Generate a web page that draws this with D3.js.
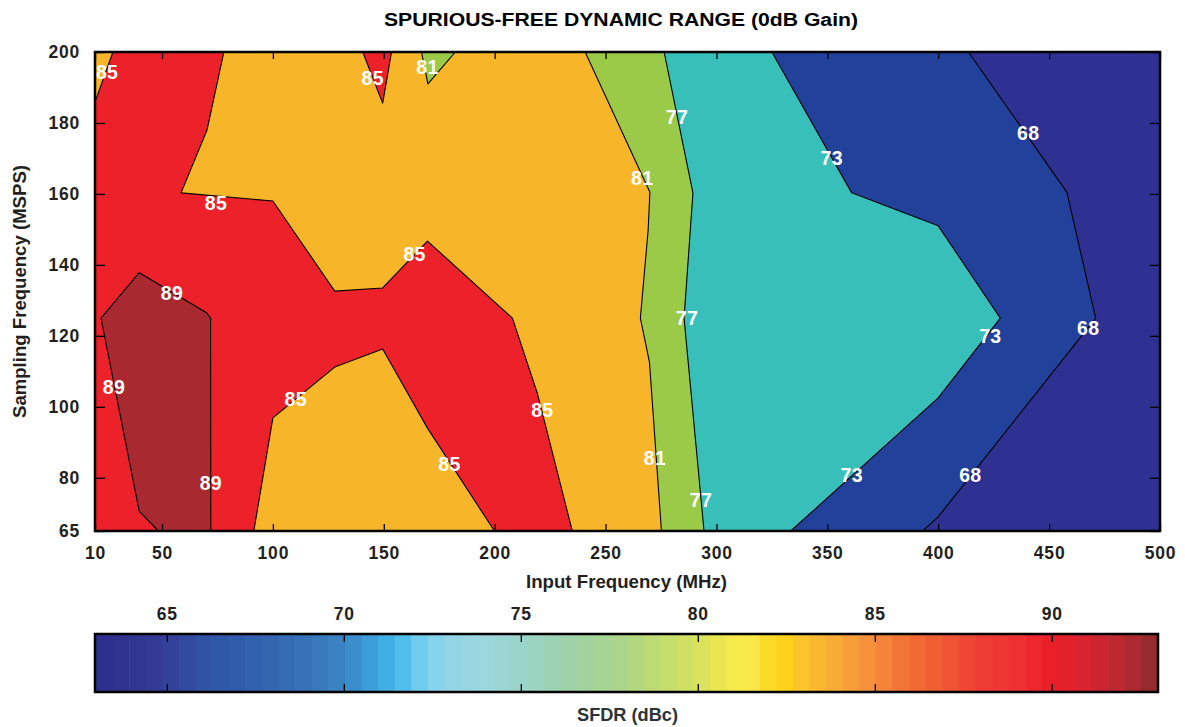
<!DOCTYPE html>
<html>
<head>
<meta charset="utf-8">
<script src="https://cdn.jsdelivr.net/npm/d3@7"></script>
<style>
  body { margin: 0; background: #fff; }
  text { font-family: "Liberation Sans", Arial, sans-serif; font-weight: bold; }
</style>
</head>
<body>
<div class="chart"></div>
<script>
// axis ticks
var xTicks = [10, 50, 100, 150, 200, 250, 300, 350, 400, 450, 500];
var yTicks = [65, 80, 100, 120, 140, 160, 180, 200];
var cbarTicks = [65, 70, 75, 80, 85, 90];

// contour regions, points are [input MHz, sampling MSPS]
// each "above" region is where SFDR >= that level
var above68 = [[10,200],[413.6,200],[458,160.5],[471,125],[400,69],[393,65],[10,65]];
var above73 = [[10,200],[325,200],[361,160.3],[400,151],[428,125],[400,102.5],[333.5,65],[10,65]];
var above77 = [[10,200],[276.4,200],[289.4,160.3],[285.4,125],[294.4,65],[10,65]];
var above81 = [[10,200],[240.8,200],[270,160.5],[269.2,149.8],[265.7,125],[269.8,112.6],[275.2,65],[10,65]];
var below81Top = [[167,200],[169.9,191],[182.3,200]];
var above85 = [[10,200],[77.9,200],[70.3,178],[58.6,160.3],[100,158],[127.9,132.6],[149.5,133.5],
               [169.7,146.7],[208,125],[219.2,103.9],[235,65],[199.9,65],[169.7,94],[149.5,116.3],
               [127.9,111.2],[100,96.9],[91.4,65],[10,65]];
var above85Spike = [[140.5,200],[149.5,185.6],[153.5,200]];
var below85Corner = [[10,200],[20.7,200],[10,185.9]];
var above89 = [[13.6,125],[36.4,137.8],[70.1,126.5],[71.9,125],[72,65],[47.8,65],[36.4,70.6]];

// contour labels: [input MHz, sampling MSPS, level]
var contourLabels = [
  [17.2,194.4,85],[145,192.7,85],[169.7,195.8,81],[282.2,181.7,77],[352,170.1,73],[440.6,177.2,68],
  [266.5,164.5,81],[74.3,157.4,85],[163.9,143.1,85],[54.5,132.1,89],[286.7,125,77],[423.5,120,73],
  [467.6,122.2,68],[21.3,105.6,89],[110.3,102.2,85],[221.5,99.1,85],[179.6,83.9,85],[272.3,85.6,81],
  [361,80.8,73],[414.5,80.8,68],[72,78.5,89],[293,73.8,77]
];

// colour bar palette stops (dBc)
var cmapValues = [63,64,65,66,67,68,69,70,70.5,71,71.5,72,72.5,73,74,75,76,77,78,79,80,80.5,81,81.5,82,82.5,83,84,85,86,87,88,89,90,91,92,93];
var cmapColors = ["#2d2e8c","#30358f","#343f98","#3152a4","#305dab","#3467b0","#3873b8","#3a86c5","#3a95d2","#3da9df","#45b7e8","#68c9ee","#82d3ee","#93d5e6","#9cd7de","#9ad5cb","#9dd2b2","#a3d39a","#add585","#c2dd6d","#d8e25f","#e7e552","#f4ea4c","#fae74a","#fbd927","#fdd11b","#fbc22e","#f8a836","#f68a3b","#f26e33","#ef5734","#ee3e34","#ee3033","#eb1e27","#d52530","#b82931","#8c2a2f"];

var margin = {top: 52, left: 95},
    width = 1065,
    height = 479;

var svg = d3.select(".chart").append("svg")
    .attr("width", 1185)
    .attr("height", 727);

var g = svg.append("g")
    .attr("transform", "translate(" + margin.left + "," + margin.top + ")");

// x axis is squeezed between 10 and 50
var x = d3.scaleLinear().domain([10, 50, 500]).range([0, 67, width]);
var y = d3.scaleLinear().domain([65, 200]).range([height, 0]);

g.append("clipPath").attr("id", "plotclip")
  .append("rect").attr("width", width).attr("height", height);

var line = d3.line()
    .x(function(d) { return x(d[0]); })
    .y(function(d) { return y(d[1]); });

var layers = [
  {pts: above68, fill: "#21419a"},
  {pts: above73, fill: "#38bfba"},
  {pts: above77, fill: "#9bca48"},
  {pts: above81, fill: "#f7b62a"},
  {pts: below81Top, fill: "#9bca48"},
  {pts: above85, fill: "#ec2129"},
  {pts: above85Spike, fill: "#ec2129"},
  {pts: below85Corner, fill: "#f7b62a"},
  {pts: above89, fill: "#a82930"}
];

var plot = g.append("g").attr("clip-path", "url(#plotclip)");

plot.append("rect")
    .attr("width", width)
    .attr("height", height)
    .attr("fill", "#2e3192");

plot.selectAll("path.region")
    .data(layers)
    .enter().append("path")
    .attr("class", "region")
    .attr("d", function(d) { return line(d.pts) + "Z"; })
    .attr("fill", function(d) { return d.fill; })
    .attr("stroke", "#000")
    .attr("stroke-width", 1.1)
    .attr("stroke-linejoin", "round");

plot.selectAll("text.clabel")
    .data(contourLabels)
    .enter().append("text")
    .attr("class", "clabel")
    .attr("x", function(d) { return x(d[0]); })
    .attr("y", function(d) { return y(d[1]); })
    .attr("dy", "0.36em")
    .attr("text-anchor", "middle")
    .attr("fill", "#fff")
    .style("font-size", "19.5px")
    .style("letter-spacing", "0.3px")
    .text(function(d) { return d[2]; });

// axes, ticks pointing inward
g.append("g")
    .attr("transform", "translate(0," + height + ")")
    .call(d3.axisBottom(x).tickValues(xTicks).tickSizeInner(-7).tickSizeOuter(0).tickPadding(16));
g.append("g")
    .call(d3.axisTop(x).tickValues(xTicks).tickSizeInner(-7).tickSizeOuter(0).tickFormat(""));
g.append("g")
    .call(d3.axisLeft(y).tickValues(yTicks).tickSizeInner(-10).tickSizeOuter(0).tickPadding(15));
g.append("g")
    .attr("transform", "translate(" + width + ",0)")
    .call(d3.axisRight(y).tickValues(yTicks).tickSizeInner(-10).tickSizeOuter(0).tickFormat(""));

g.selectAll(".domain").remove();
g.selectAll(".tick line").attr("stroke", "#000").attr("stroke-width", 1.3);
g.selectAll(".tick text")
    .attr("fill", "#231f20")
    .style("font-size", "17.5px")
    .style("font-family", "'Liberation Sans', Arial, sans-serif")
    .style("font-weight", "bold")
    .style("letter-spacing", "0.8px");

g.append("rect")
    .attr("width", width)
    .attr("height", height)
    .attr("fill", "none")
    .attr("stroke", "#000")
    .attr("stroke-width", 2.5);

// titles
svg.append("text")
    .attr("x", 621).attr("y", 25.5)
    .attr("text-anchor", "middle")
    .attr("textLength", 474).attr("lengthAdjust", "spacingAndGlyphs")
    .attr("fill", "#000")
    .style("font-size", "18px")
    .text("SPURIOUS-FREE DYNAMIC RANGE (0dB Gain)");

svg.append("text")
    .attr("x", 626.5).attr("y", 588)
    .attr("text-anchor", "middle")
    .attr("textLength", 201).attr("lengthAdjust", "spacingAndGlyphs")
    .attr("fill", "#231f20")
    .style("font-size", "17.5px")
    .text("Input Frequency (MHz)");

svg.append("text")
    .attr("transform", "translate(26,291.5)rotate(-90)")
    .attr("text-anchor", "middle")
    .attr("textLength", 253).attr("lengthAdjust", "spacingAndGlyphs")
    .attr("fill", "#231f20")
    .style("font-size", "17.5px")
    .text("Sampling Frequency (MSPS)");

// colour bar
var cb = {left: 96, top: 634, width: 1062, height: 58};
var cbar = svg.append("g").attr("transform", "translate(" + cb.left + "," + cb.top + ")");
var c = d3.scaleLinear().domain([63, 93]).range([0, cb.width]);
var cmap = d3.scaleLinear().domain(cmapValues).range(cmapColors).interpolate(d3.interpolateRgb);

var nSteps = 64, step = (93 - 63) / nSteps;
var stripes = d3.range(nSteps).map(function(i) { return 63 + i * step; });

cbar.selectAll("rect.stripe")
    .data(stripes)
    .enter().append("rect")
    .attr("class", "stripe")
    .attr("x", function(d) { return c(d); })
    .attr("width", function(d) { return c(d + step) - c(d) + 0.6; })
    .attr("height", cb.height)
    .attr("fill", function(d) { return cmap(d + step / 2); });

cbar.append("g")
    .call(d3.axisTop(c).tickValues(cbarTicks).tickSizeInner(-8).tickSizeOuter(0).tickPadding(14));
cbar.append("g")
    .attr("transform", "translate(0," + cb.height + ")")
    .call(d3.axisBottom(c).tickValues(cbarTicks).tickSizeInner(-8).tickSizeOuter(0).tickFormat(""));
cbar.selectAll(".domain").remove();
cbar.selectAll(".tick line").attr("stroke", "#000").attr("stroke-width", 1.3);
cbar.selectAll(".tick text")
    .attr("fill", "#231f20")
    .style("font-size", "17.5px")
    .style("font-family", "'Liberation Sans', Arial, sans-serif")
    .style("font-weight", "bold")
    .style("letter-spacing", "0.8px");

cbar.append("rect")
    .attr("x", -1)
    .attr("width", cb.width + 1)
    .attr("height", cb.height)
    .attr("fill", "none")
    .attr("stroke", "#000")
    .attr("stroke-width", 2.5);

svg.append("text")
    .attr("x", 627.5).attr("y", 721)
    .attr("text-anchor", "middle")
    .attr("textLength", 101).attr("lengthAdjust", "spacingAndGlyphs")
    .attr("fill", "#2b3336")
    .style("font-size", "17.5px")
    .text("SFDR (dBc)");
</script>
</body>
</html>
